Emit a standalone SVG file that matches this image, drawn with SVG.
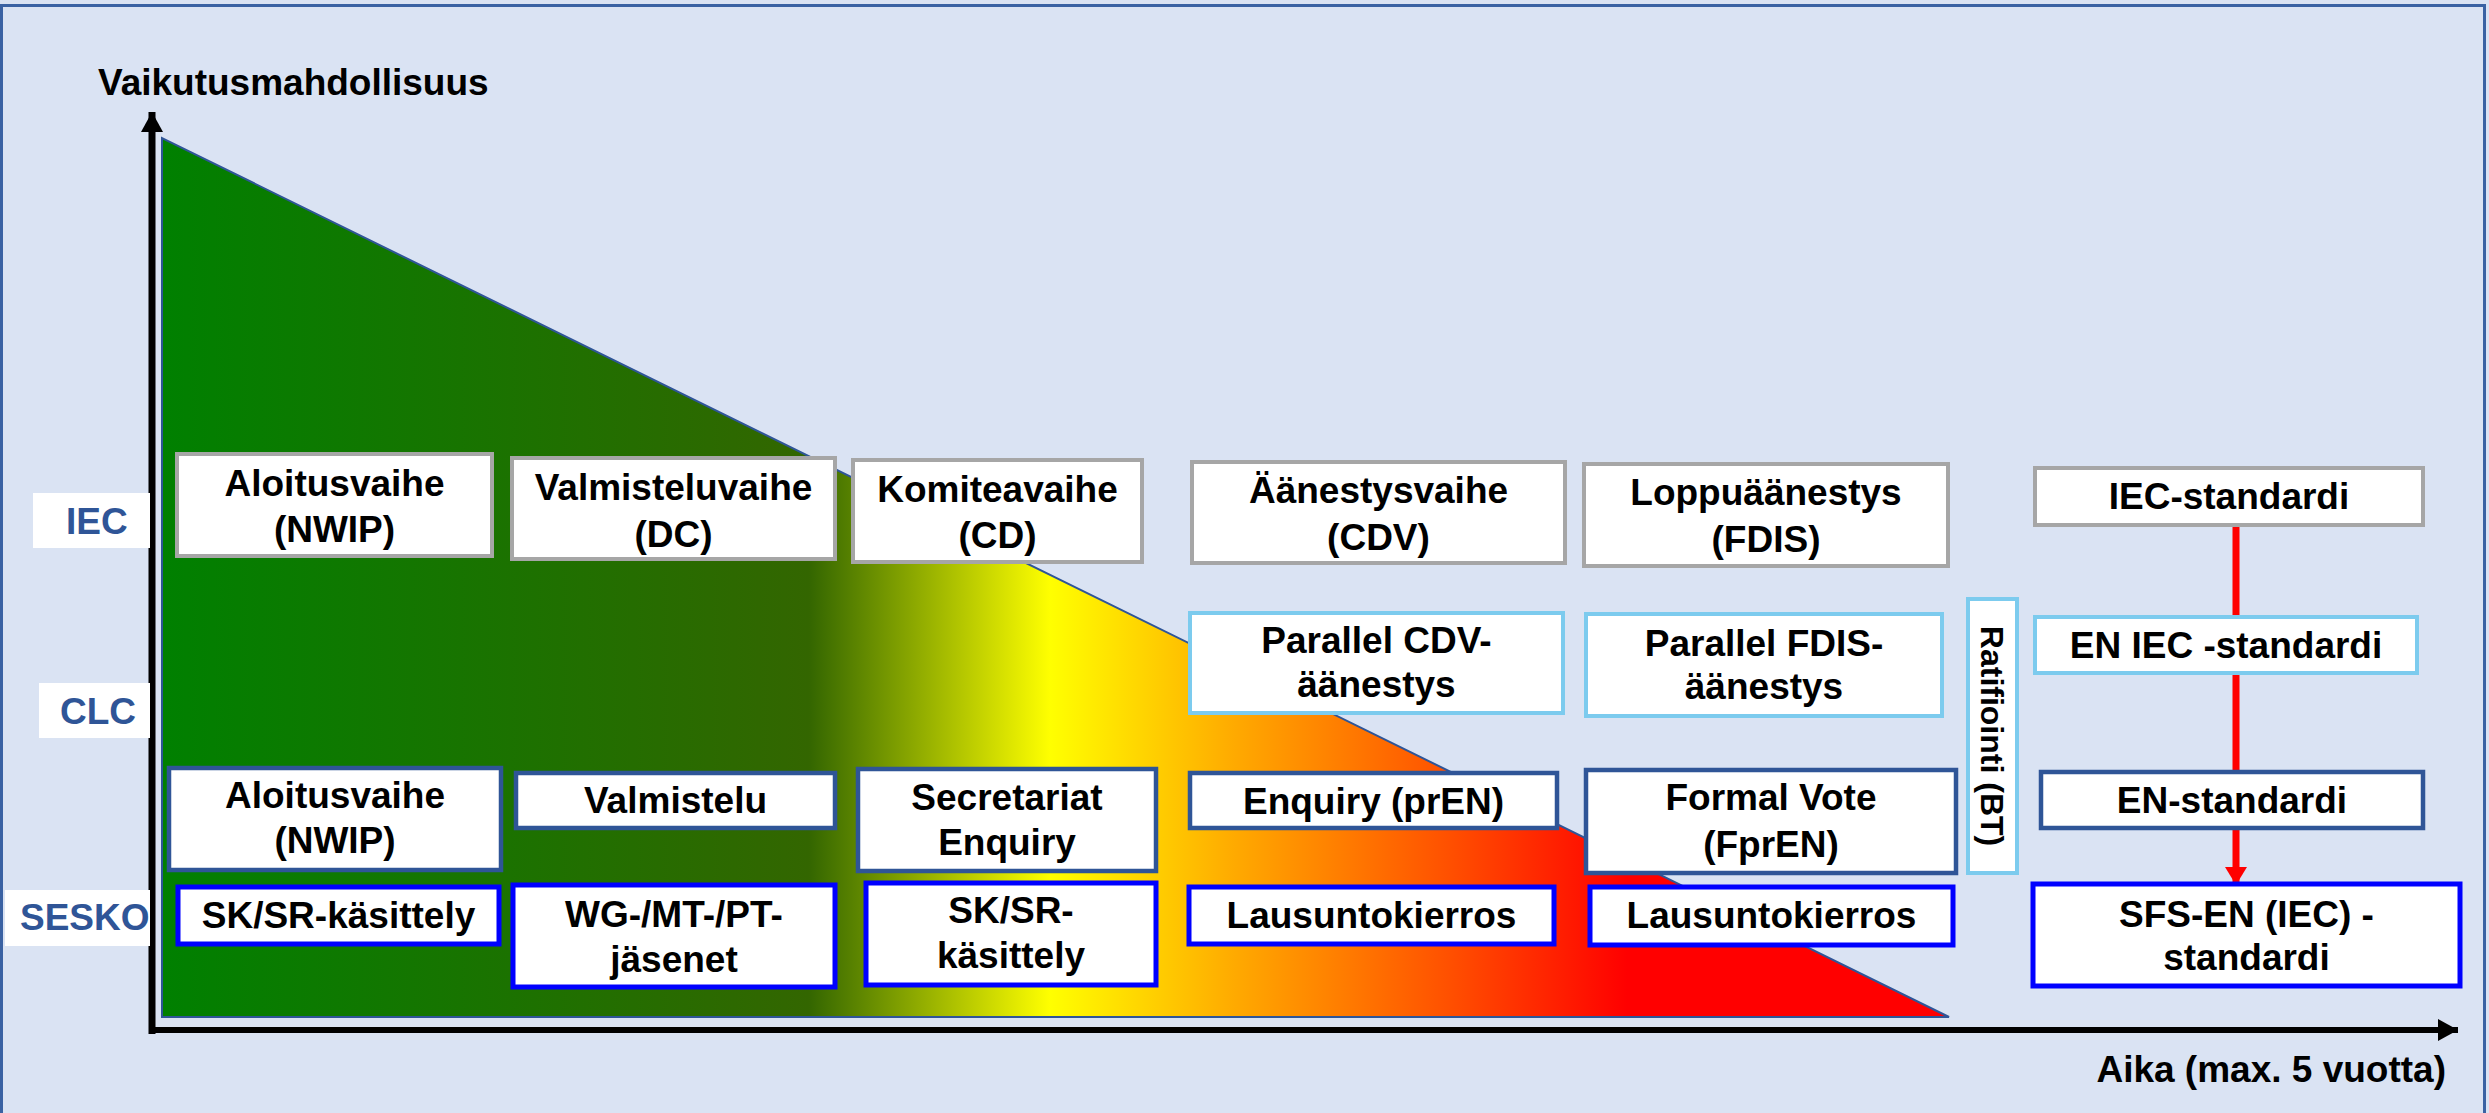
<svg xmlns="http://www.w3.org/2000/svg" width="2489" height="1113" viewBox="0 0 2489 1113">
<style>
  text { font-family: "Liberation Sans", Arial, sans-serif; font-weight: bold; }
  .t { font-size: 37px; fill: #000; text-anchor: middle; }
  .lab { font-size: 37px; fill: #2f5597; }
  .ax { font-size: 37px; fill: #000; }
  .box { fill: #fff; }
  .gray { stroke: #a6a6a6; stroke-width: 4; }
  .lblue { stroke: #7ccbee; stroke-width: 4; }
  .dblue { stroke: #2f5597; stroke-width: 4.5; }
  .bblue { stroke: #0000ff; stroke-width: 5; }
</style>
<defs>
  <linearGradient id="grad" gradientUnits="userSpaceOnUse" x1="162" y1="0" x2="1949" y2="0">
    <stop offset="0" stop-color="#008000"/>
    <stop offset="0.362" stop-color="#336600"/>
    <stop offset="0.497" stop-color="#ffff00"/>
    <stop offset="0.60" stop-color="#ffaa00"/>
    <stop offset="0.72" stop-color="#ff5000"/>
    <stop offset="0.82" stop-color="#ff0000"/>
    <stop offset="1" stop-color="#ff0000"/>
  </linearGradient>
  <marker id="redArrow" markerUnits="userSpaceOnUse" markerWidth="20" markerHeight="24" refX="18" refY="12" orient="auto">
    <path d="M0,1 L18,12 L0,23 Z" fill="#ff0000"/>
  </marker>
  <marker id="blackArrow" markerUnits="userSpaceOnUse" markerWidth="22" markerHeight="22" refX="20" refY="11" orient="auto">
    <path d="M0,0 L20,11 L0,22 Z" fill="#000"/>
  </marker>
</defs>

<!-- background and frame -->
<rect x="0" y="0" width="2489" height="1113" fill="#dae3f3"/>
<rect x="1.5" y="5.5" width="2483" height="1130" fill="#dae3f3" stroke="#3a62a3" stroke-width="3"/>

<!-- influence triangle -->
<polygon id="triangle" points="162,138 162,1017 1949,1017" fill="url(#grad)" stroke="#2f5597" stroke-width="2"/>

<!-- axes -->
<g id="axes">
  <line x1="152" y1="1034" x2="152" y2="112" stroke="#000" stroke-width="7" marker-end="url(#blackArrow)"/>
  <line x1="149" y1="1030" x2="2458" y2="1030" stroke="#000" stroke-width="6" marker-end="url(#blackArrow)"/>
  <text class="ax" x="98" y="95">Vaikutusmahdollisuus</text>
  <text class="ax" x="2446" y="1082" text-anchor="end">Aika (max. 5 vuotta)</text>
</g>

<!-- row labels -->
<g id="label-iec"><rect x="33" y="493" width="117" height="55" fill="#fff"/><text class="lab" x="66" y="534">IEC</text></g>
<g id="label-clc"><rect x="39" y="683" width="111" height="55" fill="#fff"/><text class="lab" x="60" y="724">CLC</text></g>
<g id="label-sesko"><rect x="5" y="890" width="145" height="56" fill="#fff"/><text class="lab" x="20" y="930">SESKO</text></g>

<!-- connectors -->
<g id="connectors">
  <line x1="2236" y1="525" x2="2236" y2="885" stroke="#ff0000" stroke-width="7" marker-end="url(#redArrow)"/>
</g>

<!-- IEC row -->
<g id="iec-aloitus"><rect class="box gray" x="177" y="454" width="315" height="102"/><text class="t" x="334.5" y="496">Aloitusvaihe</text><text class="t" x="334.5" y="542">(NWIP)</text></g>
<g id="iec-valmistelu"><rect class="box gray" x="512" y="458" width="323" height="101"/><text class="t" x="673.5" y="500">Valmisteluvaihe</text><text class="t" x="673.5" y="547">(DC)</text></g>
<g id="iec-komitea"><rect class="box gray" x="853" y="460" width="289" height="102"/><text class="t" x="997.5" y="502">Komiteavaihe</text><text class="t" x="997.5" y="548">(CD)</text></g>
<g id="iec-aanestys"><rect class="box gray" x="1192" y="462" width="373" height="101"/><text class="t" x="1378.5" y="503">Äänestysvaihe</text><text class="t" x="1378.5" y="550">(CDV)</text></g>
<g id="iec-loppu"><rect class="box gray" x="1584" y="464" width="364" height="102"/><text class="t" x="1766" y="505">Loppuäänestys</text><text class="t" x="1766" y="552">(FDIS)</text></g>
<g id="iec-standardi"><rect class="box gray" x="2035" y="468" width="388" height="57"/><text class="t" x="2229" y="509">IEC-standardi</text></g>

<!-- CLC parallel row -->
<g id="clc-parallel-cdv"><rect class="box lblue" x="1190" y="613" width="373" height="100"/><text class="t" x="1376.5" y="653">Parallel CDV-</text><text class="t" x="1376.5" y="697">äänestys</text></g>
<g id="clc-parallel-fdis"><rect class="box lblue" x="1586" y="614" width="356" height="102"/><text class="t" x="1764" y="656">Parallel FDIS-</text><text class="t" x="1764" y="699">äänestys</text></g>
<g id="clc-en-iec"><rect class="box lblue" x="2035" y="617" width="382" height="56"/><text class="t" x="2226" y="658">EN IEC -standardi</text></g>
<g id="clc-ratifiointi"><rect class="box lblue" x="1968" y="599" width="49" height="274"/><text transform="translate(1981,736) rotate(90)" style="font-size:32px;text-anchor:middle;fill:#000">Ratifiointi (BT)</text></g>

<!-- CLC row -->
<g id="clc-aloitus"><rect class="box dblue" x="169" y="768" width="332" height="102"/><text class="t" x="335" y="808">Aloitusvaihe</text><text class="t" x="335" y="853">(NWIP)</text></g>
<g id="clc-valmistelu"><rect class="box dblue" x="516" y="773" width="319" height="55"/><text class="t" x="675.5" y="813">Valmistelu</text></g>
<g id="clc-secretariat"><rect class="box dblue" x="858" y="769" width="298" height="102"/><text class="t" x="1007" y="810">Secretariat</text><text class="t" x="1007" y="855">Enquiry</text></g>
<g id="clc-enquiry"><rect class="box dblue" x="1190" y="773" width="367" height="55"/><text class="t" x="1373.5" y="814">Enquiry (prEN)</text></g>
<g id="clc-formal"><rect class="box dblue" x="1586" y="770" width="370" height="103"/><text class="t" x="1771" y="810">Formal Vote</text><text class="t" x="1771" y="857">(FprEN)</text></g>
<g id="clc-en"><rect class="box dblue" x="2041" y="772" width="382" height="56"/><text class="t" x="2232" y="813">EN-standardi</text></g>

<!-- SESKO row -->
<g id="sesko-sksr1"><rect class="box bblue" x="178" y="887" width="321" height="57"/><text class="t" x="338.5" y="928">SK/SR-käsittely</text></g>
<g id="sesko-wg"><rect class="box bblue" x="513" y="885" width="322" height="102"/><text class="t" x="674" y="927">WG-/MT-/PT-</text><text class="t" x="674" y="972">jäsenet</text></g>
<g id="sesko-sksr2"><rect class="box bblue" x="866" y="883" width="290" height="102"/><text class="t" x="1011" y="923">SK/SR-</text><text class="t" x="1011" y="968">käsittely</text></g>
<g id="sesko-lausunto1"><rect class="box bblue" x="1189" y="887" width="365" height="57"/><text class="t" x="1371.5" y="928">Lausuntokierros</text></g>
<g id="sesko-lausunto2"><rect class="box bblue" x="1590" y="887" width="363" height="58"/><text class="t" x="1771.5" y="928">Lausuntokierros</text></g>
<g id="sesko-sfs"><rect class="box bblue" x="2033" y="884" width="427" height="102"/><text class="t" x="2246.5" y="927">SFS-EN (IEC) -</text><text class="t" x="2246.5" y="970">standardi</text></g>
</svg>
